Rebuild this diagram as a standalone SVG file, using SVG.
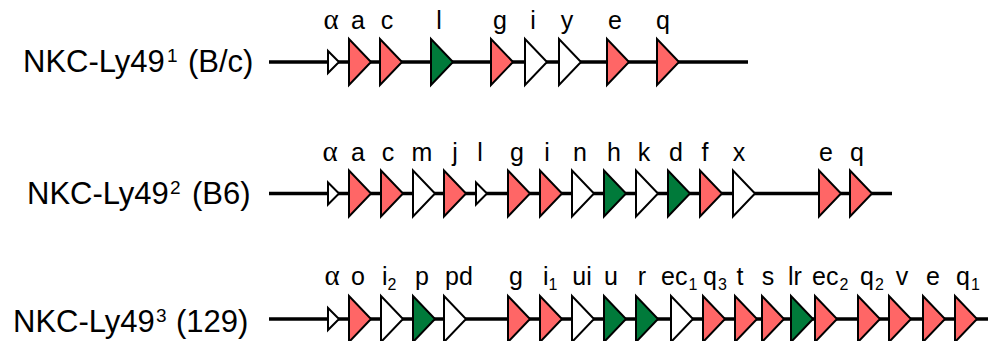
<svg xmlns="http://www.w3.org/2000/svg" xmlns:xlink="http://www.w3.org/1999/xlink" width="988" height="341" viewBox="0 0 988 341">
<style>
.red{fill:#FF6666;stroke:#000;stroke-width:2;stroke-linejoin:miter}
.grn{fill:#007A3A;stroke:#000;stroke-width:2;stroke-linejoin:miter}
.wht{fill:#FFFFFF;stroke:#000;stroke-width:2;stroke-linejoin:miter}
.bb{stroke:#000;stroke-width:3.5;fill:none}
.lbl{font-family:"Liberation Sans",Arial,sans-serif;font-size:25px;fill:#000;text-anchor:middle}
.lbs{font-family:"Liberation Sans",Arial,sans-serif;font-size:25px;fill:#000;text-anchor:start}
.alp{font-family:"Liberation Serif","Times New Roman",serif;font-size:29px;fill:#000;text-anchor:middle}
.sub{font-size:16px}
.title{font-family:"Liberation Sans",Arial,sans-serif;font-size:31px;fill:#000}
.sup{font-size:19px}
</style>
<defs>
<polygon id="big" points="0,-23 0,23 22,0"/>
<polygon id="sml" points="0,-11 0,11 11,0"/>
</defs>
<rect width="988" height="341" fill="#fff"/>
<g id="connectors">
<line class="bb" x1="269" y1="62" x2="748" y2="62"/>
<line class="bb" x1="269" y1="193.5" x2="892" y2="193.5"/>
<line class="bb" x1="269" y1="319" x2="988" y2="319"/>
</g>
<g id="row1-title"><text class="title" y="72"><tspan x="23">NKC-Ly49</tspan><tspan class="sup" x="167" dy="-10">1</tspan><tspan x="188" dy="10">(B/c)</tspan></text></g>
<g id="row2-title"><text class="title" y="204"><tspan x="27">NKC-Ly49</tspan><tspan class="sup" x="170" dy="-10">2</tspan><tspan x="192" dy="10">(B6)</tspan></text></g>
<g id="row3-title"><text class="title" y="332"><tspan x="13">NKC-Ly49</tspan><tspan class="sup" x="156" dy="-10">3</tspan><tspan x="176" dy="10">(129)</tspan></text></g>

<g id="r1-alpha"><use xlink:href="#sml" class="wht" x="328" y="62"/><text class="alp" x="331" y="28.5">α</text></g>
<g id="r1-a"><use xlink:href="#big" class="red" x="349" y="62"/><text class="lbl" x="358" y="28.5">a</text></g>
<g id="r1-c"><use xlink:href="#big" class="red" x="380" y="62"/><text class="lbl" x="387" y="28.5">c</text></g>
<g id="r1-l"><use xlink:href="#big" class="grn" x="431" y="62"/><text class="lbl" x="439" y="28.5">l</text></g>
<g id="r1-g"><use xlink:href="#big" class="red" x="491" y="62"/><text class="lbl" x="500" y="28.5">g</text></g>
<g id="r1-i"><use xlink:href="#big" class="wht" x="525" y="62"/><text class="lbl" x="533" y="28.5">i</text></g>
<g id="r1-y"><use xlink:href="#big" class="wht" x="559" y="62"/><text class="lbl" x="567" y="28.5">y</text></g>
<g id="r1-e"><use xlink:href="#big" class="red" x="607" y="62"/><text class="lbl" x="615" y="28.5">e</text></g>
<g id="r1-q"><use xlink:href="#big" class="red" x="657" y="62"/><text class="lbl" x="663" y="28.5">q</text></g>

<g id="r2-alpha"><use xlink:href="#sml" class="wht" x="328" y="193.5"/><text class="alp" x="330" y="161">α</text></g>
<g id="r2-a"><use xlink:href="#big" class="red" x="349" y="193.5"/><text class="lbl" x="358" y="161">a</text></g>
<g id="r2-c"><use xlink:href="#big" class="red" x="381" y="193.5"/><text class="lbl" x="388" y="161">c</text></g>
<g id="r2-m"><use xlink:href="#big" class="wht" x="413" y="193.5"/><text class="lbl" x="422" y="161">m</text></g>
<g id="r2-j"><use xlink:href="#big" class="red" x="444" y="193.5"/><text class="lbl" x="455" y="161">j</text></g>
<g id="r2-l"><use xlink:href="#sml" class="wht" x="476" y="193.5"/><text class="lbl" x="480" y="161">l</text></g>
<g id="r2-g"><use xlink:href="#big" class="red" x="508" y="193.5"/><text class="lbl" x="517" y="161">g</text></g>
<g id="r2-i"><use xlink:href="#big" class="red" x="540" y="193.5"/><text class="lbl" x="547" y="161">i</text></g>
<g id="r2-n"><use xlink:href="#big" class="wht" x="572" y="193.5"/><text class="lbl" x="580" y="161">n</text></g>
<g id="r2-h"><use xlink:href="#big" class="grn" x="604" y="193.5"/><text class="lbl" x="614" y="161">h</text></g>
<g id="r2-k"><use xlink:href="#big" class="wht" x="636" y="193.5"/><text class="lbl" x="644" y="161">k</text></g>
<g id="r2-d"><use xlink:href="#big" class="grn" x="668" y="193.5"/><text class="lbl" x="676" y="161">d</text></g>
<g id="r2-f"><use xlink:href="#big" class="red" x="700" y="193.5"/><text class="lbl" x="705" y="161">f</text></g>
<g id="r2-x"><use xlink:href="#big" class="wht" x="733" y="193.5"/><text class="lbl" x="739" y="161">x</text></g>
<g id="r2-e"><use xlink:href="#big" class="red" x="819" y="193.5"/><text class="lbl" x="826" y="161">e</text></g>
<g id="r2-q"><use xlink:href="#big" class="red" x="850" y="193.5"/><text class="lbl" x="857" y="161">q</text></g>

<g id="r3-alpha"><use xlink:href="#sml" class="wht" x="328" y="319"/><text class="alp" x="332" y="285">α</text></g>
<g id="r3-o"><use xlink:href="#big" class="red" x="349" y="319"/><text class="lbl" x="358" y="285">o</text></g>
<g id="r3-i2"><use xlink:href="#big" class="wht" x="381" y="319"/><text class="lbs" x="382" y="285">i<tspan class="sub" dy="5">2</tspan></text></g>
<g id="r3-p"><use xlink:href="#big" class="grn" x="413" y="319"/><text class="lbl" x="422" y="285">p</text></g>
<g id="r3-pd"><use xlink:href="#big" class="wht" x="444" y="319"/><text class="lbl" x="459" y="285">pd</text></g>
<g id="r3-g"><use xlink:href="#big" class="red" x="508" y="319"/><text class="lbl" x="516" y="285">g</text></g>
<g id="r3-i1"><use xlink:href="#big" class="red" x="540" y="319"/><text class="lbs" x="543" y="285">i<tspan class="sub" dy="5">1</tspan></text></g>
<g id="r3-ui"><use xlink:href="#big" class="wht" x="572" y="319"/><text class="lbl" x="582" y="285">ui</text></g>
<g id="r3-u"><use xlink:href="#big" class="grn" x="604" y="319"/><text class="lbl" x="611" y="285">u</text></g>
<g id="r3-r"><use xlink:href="#big" class="grn" x="636" y="319"/><text class="lbl" x="642" y="285">r</text></g>
<g id="r3-ec1"><use xlink:href="#big" class="wht" x="671" y="319"/><text class="lbs" x="661" y="285">ec<tspan class="sub" dx="1" dy="5">1</tspan></text></g>
<g id="r3-q3"><use xlink:href="#big" class="red" x="703" y="319"/><text class="lbs" x="703" y="285">q<tspan class="sub" dx="1" dy="5">3</tspan></text></g>
<g id="r3-t"><use xlink:href="#big" class="red" x="735" y="319"/><text class="lbl" x="740" y="285">t</text></g>
<g id="r3-s"><use xlink:href="#big" class="red" x="762" y="319"/><text class="lbl" x="768" y="285">s</text></g>
<g id="r3-lr"><use xlink:href="#big" class="grn" x="791" y="319"/><text class="lbl" x="795" y="285">lr</text></g>
<g id="r3-ec2"><use xlink:href="#big" class="red" x="815" y="319"/><text class="lbs" x="812" y="285">ec<tspan class="sub" dx="1" dy="5">2</tspan></text></g>
<g id="r3-q2"><use xlink:href="#big" class="red" x="858" y="319"/><text class="lbs" x="860" y="285">q<tspan class="sub" dx="1" dy="5">2</tspan></text></g>
<g id="r3-v"><use xlink:href="#big" class="red" x="889" y="319"/><text class="lbl" x="902" y="285">v</text></g>
<g id="r3-e"><use xlink:href="#big" class="red" x="923" y="319"/><text class="lbl" x="933" y="285">e</text></g>
<g id="r3-q1"><use xlink:href="#big" class="red" x="955" y="319"/><text class="lbs" x="956" y="285">q<tspan class="sub" dx="1" dy="5">1</tspan></text></g>
</svg>
